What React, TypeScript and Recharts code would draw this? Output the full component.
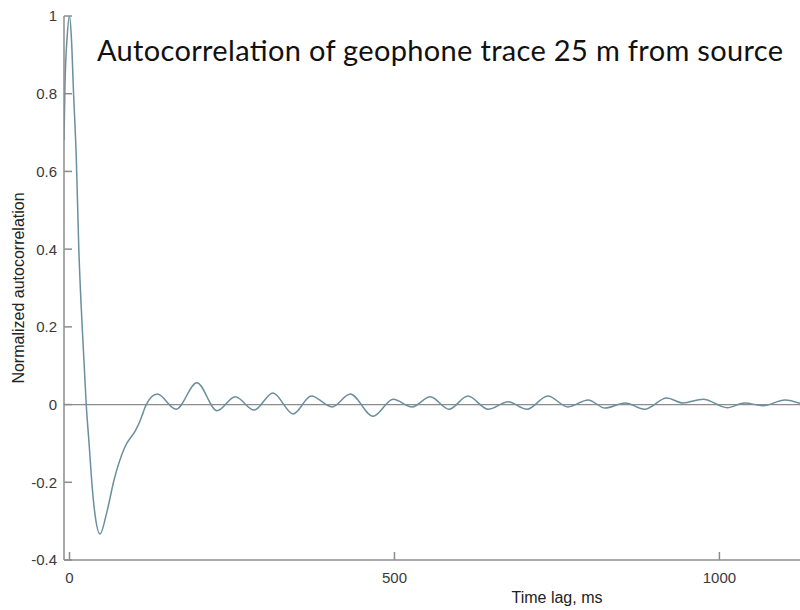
import React from 'react';
import { LineChart, Line, XAxis, YAxis, ReferenceLine } from 'recharts';

// Lag in ms and normalized autocorrelation of the geophone trace
const lagMs = [
  -8.5, -7, -3.5, 0, 3, 6, 10.5, 14.3, 19.5, 25.7, 30.5, 34, 39, 47, 57, 68.5, 85, 102, 108, 113, 118,
  135, 164, 196, 227, 255, 284, 313, 344, 372, 404, 432, 467, 498, 527, 555, 584, 613, 644, 675, 704,
  736, 767, 798, 824, 855, 885, 919, 944, 975, 1012, 1039, 1067, 1101, 1124,
];
const autocorr = [
  0.68, 0.82, 0.95, 1, 0.94, 0.81, 0.63, 0.4, 0.2, 0, -0.11, -0.194, -0.28, -0.333, -0.28, -0.194, -0.11, -0.065, -0.044, -0.022, 0,
  0.027, -0.012, 0.056, -0.016, 0.02, -0.014, 0.03, -0.024, 0.022, -0.006, 0.027, -0.03, 0.014, -0.006, 0.02, -0.012, 0.022, -0.012, 0.007, -0.012,
  0.022, -0.006, 0.012, -0.009, 0.004, -0.012, 0.017, 0.004, 0.014, -0.008, 0.004, -0.003, 0.012, 0.003,
];

const xTicks = [0, 500, 1000];
const yTicks = [-0.4, -0.2, 0, 0.2, 0.4, 0.6, 0.8, 1];

const data = lagMs.map((t, i) => ({ t, r: autocorr[i] }));

const AXIS = '#8c8c8c';
const LABEL = '#3a3a3a';
const FONT = '"Liberation Sans", Arial, sans-serif';

// ticks point into the plot, labels sit outside
const YTick = ({ x, y, payload }: any) => (
  <g>
    <line x1={x + 7} x2={x + 15} y1={y} y2={y} stroke={AXIS} strokeWidth={1.5} />
    <text x={x} y={y} dy="0.36em" textAnchor="end" fill={LABEL} fontSize={15} fontFamily={FONT}>
      {payload.value}
    </text>
  </g>
);

const XTick = ({ x, y, payload }: any) => (
  <g>
    <line x1={x} x2={x} y1={y - 12} y2={y - 20} stroke={AXIS} strokeWidth={1.5} />
    <text x={x} y={y} dy="0.71em" textAnchor="middle" fill={LABEL} fontSize={15} fontFamily={FONT}>
      {payload.value}
    </text>
  </g>
);

export default function App() {
  return (
    <div style={{ position: 'absolute', left: 0, top: 0, background: '#fff' }}>
      <LineChart width={800} height={610} data={data} margin={{ top: 16, right: 0, bottom: 0, left: 0 }}>
        <XAxis
          dataKey="t"
          type="number"
          domain={[-8.5, 1124]}
          ticks={xTicks}
          height={50}
          tickSize={0}
          tickMargin={12}
          tickLine={false}
          stroke={AXIS}
          strokeWidth={1.5}
          tick={<XTick />}
          allowDataOverflow
        />
        <YAxis
          type="number"
          domain={[-0.4, 1]}
          ticks={yTicks}
          width={64}
          tickSize={0}
          tickMargin={7}
          tickLine={false}
          stroke={AXIS}
          strokeWidth={1.5}
          tick={<YTick />}
          allowDataOverflow
        />
        <ReferenceLine y={0} stroke={AXIS} strokeWidth={1.3} />
        <Line
          type="monotone"
          dataKey="r"
          stroke="#6a8f9e"
          strokeWidth={1.5}
          dot={false}
          isAnimationActive={false}
        />
        <text x={97} y={61} fontFamily='Lato, "Open Sans", sans-serif' fontSize={29} fill="#111" textLength={686}>
          Autocorrelation of geophone trace 25 m from source
        </text>
        <text
          transform="translate(24, 288) rotate(-90)"
          textAnchor="middle"
          fontFamily={FONT}
          fontSize={16}
          fill="#222"
        >
          Normalized autocorrelation
        </text>
        <text x={557} y={603} textAnchor="middle" fontFamily={FONT} fontSize={16} fill="#222">
          Time lag, ms
        </text>
      </LineChart>
    </div>
  );
}
